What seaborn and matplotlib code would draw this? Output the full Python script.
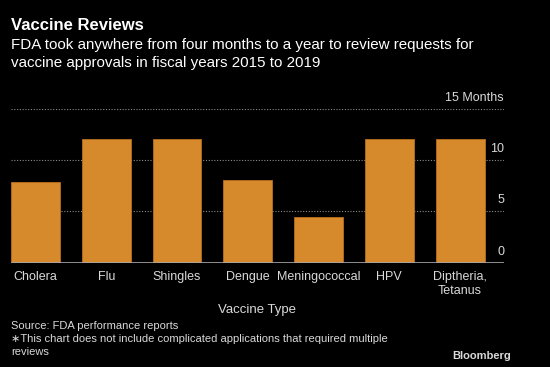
import matplotlib
matplotlib.use("Agg")
import matplotlib.pyplot as plt
import matplotlib.transforms as mtransforms
import pandas as pd
import seaborn as sns

vaccines = ["Cholera", "Flu", "Shingles", "Dengue", "Meningococcal", "HPV", "Diptheria,\nTetanus"]
months = [7.9, 12.1, 12.1, 8.1, 4.4, 12.1, 12.1]
y_ticks = [0, 5, 10, 15]
y_tick_labels = ["0", "5", "10", "15 Months"]

BG = "black"
BAR = "#D68A2C"
TEXT = "#D9D9D9"
GRID = "#8C8C8C"

sns.set_theme(style="dark", rc={
    "figure.facecolor": BG,
    "axes.facecolor": BG,
    "axes.edgecolor": BG,
    "text.color": TEXT,
    "xtick.color": TEXT,
    "ytick.color": TEXT,
    "axes.labelcolor": TEXT,
})
plt.rcParams["font.family"] = ["Liberation Sans", "DejaVu Sans"]

df = pd.DataFrame({"vaccine": vaccines, "months": months})

fig, ax = plt.subplots(figsize=(5.5, 3.67), dpi=100)
fig.subplots_adjust(left=11 / 550, right=504 / 550, bottom=104.5 / 367, top=258 / 367)

sns.barplot(data=df, x="vaccine", y="months", color=BAR, saturation=1,
            width=0.69, edgecolor="#B8701F", linewidth=0.6, ax=ax, zorder=3)

ax.set_xlim(-0.345, 6.62)
ax.set_ylim(0, 15)
ax.set_yticks(y_ticks)
ax.set_yticklabels(y_tick_labels)
for y in y_ticks[1:]:
    ax.axhline(y, color=GRID, linestyle=(0, (1, 1.5)), linewidth=0.8, zorder=1)
ax.axhline(0, color="#A6A6A6", linewidth=1.2, zorder=4)

ax.yaxis.tick_right()
ax.tick_params(axis="y", length=0, pad=0, labelsize=9)
offset = mtransforms.ScaledTranslation(0, 3.5 / 72, fig.dpi_scale_trans)
for lab in ax.get_yticklabels():
    lab.set_horizontalalignment("right")
    lab.set_verticalalignment("bottom")
    lab.set_transform(lab.get_transform() + offset)

ax.tick_params(axis="x", length=0, pad=6, labelsize=9)
ax.set_xlabel("Vaccine Type", fontsize=9.5, labelpad=5)
ax.set_ylabel("")
for s in ax.spines.values():
    s.set_visible(False)

fig.text(11 / 550, 1 - 26 / 367, "Vaccine Reviews", fontsize=12, fontweight="bold",
         color="white", va="center", ha="left")
fig.text(11 / 550, 1 - 38 / 367,
         "FDA took anywhere from four months to a year to review requests for\n"
         "vaccine approvals in fiscal years 2015 to 2019",
         fontsize=10.9, color="white", va="top", ha="left", linespacing=1.35)

fig.text(11 / 550, 1 - 321 / 367,
         "Source: FDA performance reports\n"
         "\u2217This chart does not include complicated applications that required multiple\n"
         "reviews",
         fontsize=8, color=TEXT, va="top", ha="left", linespacing=1.4)
fig.text(511 / 550, 1 - 356 / 367, "Bloomberg", fontsize=8, fontweight="bold",
         color=TEXT, va="center", ha="right")

fig.savefig("out.png", dpi=100, facecolor=BG)
